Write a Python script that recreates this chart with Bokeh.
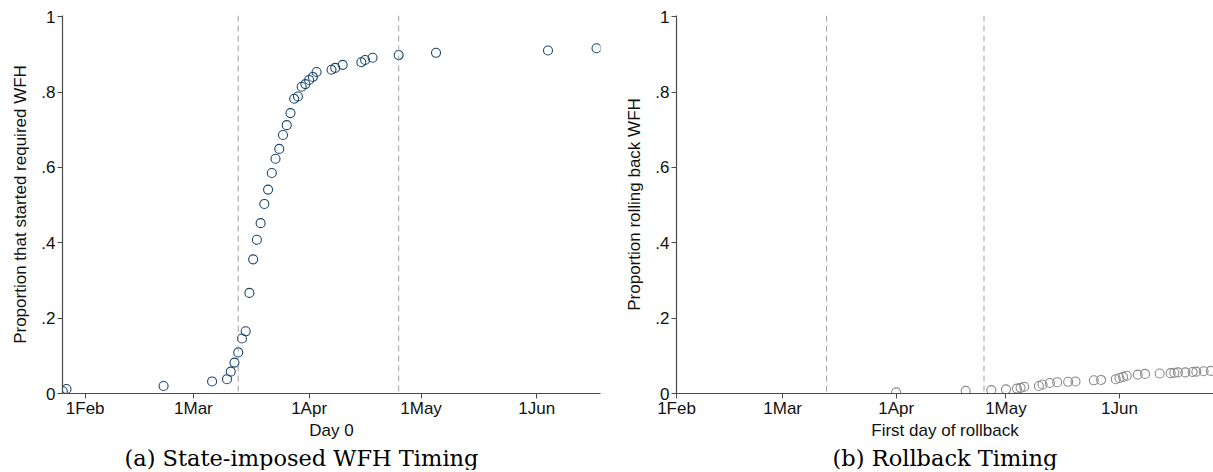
import pandas as pd
from bokeh.plotting import figure
from bokeh.layouts import row
from bokeh.models import Span, FixedTicker, Range1d, Title
from bokeh.embed import file_html
from bokeh.resources import INLINE

# ---- data ----
wfh_dates = ["2020-01-26", "2020-01-27", "2020-02-22", "2020-03-06", "2020-03-10",
             "2020-03-11", "2020-03-12", "2020-03-13", "2020-03-14", "2020-03-15",
             "2020-03-16", "2020-03-17", "2020-03-18", "2020-03-19", "2020-03-20",
             "2020-03-21", "2020-03-22", "2020-03-23", "2020-03-24", "2020-03-25",
             "2020-03-26", "2020-03-27", "2020-03-28", "2020-03-29", "2020-03-30",
             "2020-03-31", "2020-04-01", "2020-04-02", "2020-04-03", "2020-04-07",
             "2020-04-08", "2020-04-10", "2020-04-15", "2020-04-16", "2020-04-18",
             "2020-04-25", "2020-05-05", "2020-06-04", "2020-06-17"]
wfh_share = [0.006, 0.012, 0.020, 0.032, 0.038,
             0.058, 0.082, 0.109, 0.146, 0.165,
             0.267, 0.356, 0.408, 0.452, 0.503,
             0.541, 0.585, 0.623, 0.649, 0.686,
             0.712, 0.744, 0.782, 0.788, 0.814,
             0.821, 0.832, 0.840, 0.853, 0.859,
             0.864, 0.872, 0.879, 0.885, 0.891,
             0.898, 0.904, 0.910, 0.916]

rollback_dates = ["2020-04-01", "2020-04-20", "2020-04-27", "2020-05-01", "2020-05-04",
                  "2020-05-05", "2020-05-06", "2020-05-10", "2020-05-11", "2020-05-13",
                  "2020-05-15", "2020-05-18", "2020-05-20", "2020-05-25", "2020-05-27",
                  "2020-05-31", "2020-06-01", "2020-06-02", "2020-06-03", "2020-06-06",
                  "2020-06-08", "2020-06-12", "2020-06-15", "2020-06-16", "2020-06-17",
                  "2020-06-19", "2020-06-21", "2020-06-22", "2020-06-24", "2020-06-26"]
rollback_share = [0.003, 0.007, 0.009, 0.011, 0.013,
                  0.015, 0.018, 0.020, 0.024, 0.028,
                  0.030, 0.031, 0.032, 0.035, 0.036,
                  0.038, 0.041, 0.044, 0.047, 0.050,
                  0.052, 0.053, 0.054, 0.055, 0.056,
                  0.056, 0.057, 0.058, 0.059, 0.060]

xline_dates = ["2020-03-13", "2020-04-25"]
x_tick_dates = ["2020-02-01", "2020-03-01", "2020-04-01", "2020-05-01", "2020-06-01"]
x_tick_labels = ["1Feb", "1Mar", "1Apr", "1May", "1Jun"]
y_ticks = [0, 0.2, 0.4, 0.6, 0.8, 1]
y_tick_labels = ["0", ".2", ".4", ".6", ".8", "1"]

DAY = 86400000.0


def ms(d):
    return pd.Timestamp(d).value // 10**6


SANS = "Liberation Sans"
SERIF = "DejaVu Serif"


def panel(dates, share, color, ylab, xlab, caption, cap_align, cap_offset,
          x_start, x_end, border_left, border_right, frame_w):
    p = figure(x_axis_type="datetime", output_backend="svg", toolbar_location=None,
               frame_width=frame_w, frame_height=378,
               min_border_left=border_left, min_border_right=border_right,
               min_border_top=15, min_border_bottom=0,
               x_range=Range1d(x_start, x_end), y_range=Range1d(0, 1.003))
    p.background_fill_color = "white"
    p.border_fill_color = "white"
    p.outline_line_color = None
    p.grid.visible = False

    for d in xline_dates:
        p.add_layout(Span(location=ms(d), dimension="height", line_color="#a0a0a0",
                          line_width=1, line_dash="6 4"))

    p.scatter(x=pd.to_datetime(dates), y=share, marker="circle", size=9,
              fill_color=None, line_color=color, line_width=1.1)

    xt = [ms(d) for d in x_tick_dates]
    p.xaxis.ticker = FixedTicker(ticks=xt)
    p.xaxis.major_label_overrides = {t: l for t, l in zip(xt, x_tick_labels)}
    p.yaxis.ticker = FixedTicker(ticks=y_ticks)
    p.yaxis.major_label_overrides = {t: l for t, l in zip(y_ticks, y_tick_labels)}

    for ax in (p.xaxis, p.yaxis):
        ax.axis_line_color = "#4a4a4a"
        ax.axis_line_width = 1.2
        ax.major_tick_line_color = "#4a4a4a"
        ax.major_tick_out = 5
        ax.major_tick_in = 0
        ax.minor_tick_line_color = None
        ax.major_label_text_font = SANS
        ax.major_label_text_font_size = "17px"
        ax.major_label_text_color = "#111111"
        ax.axis_label_text_font = SANS
        ax.axis_label_text_font_size = "17px"
        ax.axis_label_text_font_style = "normal"
        ax.axis_label_text_color = "#111111"
    p.xaxis.major_label_standoff = 0
    p.xaxis.axis_label_standoff = 0
    p.yaxis.major_label_standoff = 2
    p.yaxis.axis_label_standoff = 8
    p.xaxis.axis_label = xlab
    p.yaxis.axis_label = ylab

    p.add_layout(Title(text=caption, align=cap_align, offset=cap_offset, text_font=SERIF,
                       text_font_size="22.5px", text_font_style="normal",
                       text_color="black", standoff=0), "below")
    return p


left = panel(wfh_dates, wfh_share, "#1a476f", "Proportion that started required WFH",
             "Day 0", "(a) State-imposed WFH Timing", "left", 62,
             ms("2020-02-01") - 6.08 * DAY, ms("2020-06-01") + 17.07 * DAY,
             62, 10, 538)
right = panel(rollback_dates, rollback_share, "#8a8a8a", "Proportion rolling back WFH",
              "First day of rollback", "(b) Rollback Timing", "center", 0,
              ms("2020-02-01"), ms("2020-06-01") + 25.7 * DAY,
              66, 0, 537)

layout = row(left, right)
open("out.html", "w").write(file_html(layout, INLINE))
